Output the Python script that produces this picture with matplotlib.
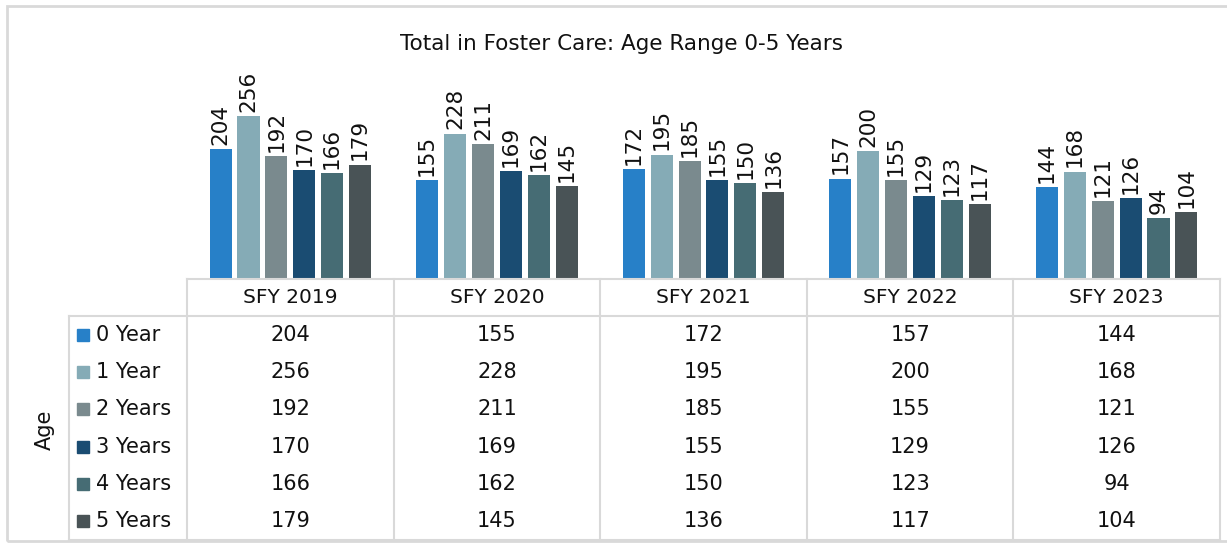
import numpy as np
import matplotlib.pyplot as plt

years = ["SFY 2019", "SFY 2020", "SFY 2021", "SFY 2022", "SFY 2023"]
ages = ["0 Year", "1 Year", "2 Years", "3 Years", "4 Years", "5 Years"]
age0 = [204, 155, 172, 157, 144]
age1 = [256, 228, 195, 200, 168]
age2 = [192, 211, 185, 155, 121]
age3 = [170, 169, 155, 129, 126]
age4 = [166, 162, 150, 123, 94]
age5 = [179, 145, 136, 117, 104]
series = [age0, age1, age2, age3, age4, age5]
colors = ["#2780C8", "#85ABB6", "#7A8A8E", "#1A4C72", "#466C74", "#495356"]

W, H = 1227, 545
fig = plt.figure(figsize=(W / 100, H / 100), dpi=100)
plt.rcParams["font.family"] = ["DejaVu Sans"]
txt = "#111111"
grid = "#d9d9d9"


def fx(px):
    return px / W


def fy(py):
    return 1 - py / H


# outer frame
fig.add_artist(plt.Rectangle((fx(7), fy(541)), fx(1240 - 7), fy(6) - fy(541),
                             transform=fig.transFigure, fill=False,
                             edgecolor=grid, lw=2))

fig.text(fx(622), fy(44), "Total in Foster Care: Age Range 0-5 Years",
         ha="center", va="center", fontsize=15.5, color=txt)

# bars
left, right, base, top = 187, 1220, 278, 88
ax = fig.add_axes([fx(left), fy(base), fx(right - left), fy(top) - fy(base)])
x = np.arange(len(years))
bw = 0.107
step = 0.135
for i, (vals, c) in enumerate(zip(series, colors)):
    pos = x + (i - 2.5) * step
    ax.bar(pos, vals, width=bw, color=c)
    for p, v in zip(pos, vals):
        ax.annotate(str(v), (p, v), xytext=(0, 3), textcoords="offset points",
                    rotation=90, ha="center", va="bottom", fontsize=15.5,
                    color=txt)
ax.set_xlim(-0.5, len(years) - 0.5)
ax.set_ylim(0, 300)
ax.axis("off")

# data table
tab_left, tab_top, head_bot, tab_bot = 69, 279, 316, 540
tx = fig.add_axes([0, 0, 1, 1])
tx.set_xlim(0, W)
tx.set_ylim(H, 0)
tx.axis("off")
colw = (right - left) / len(years)
rowh = (tab_bot - head_bot) / len(ages)

# horizontal lines
tx.plot([left, right], [tab_top, tab_top], color=grid, lw=1.5)
tx.plot([tab_left, right], [head_bot, head_bot], color=grid, lw=1.5)
tx.plot([tab_left, right], [tab_bot, tab_bot], color=grid, lw=1.5)
# vertical lines
tx.plot([tab_left, tab_left], [head_bot, tab_bot], color=grid, lw=1.5)
for j in range(len(years) + 1):
    xx = left + j * colw
    tx.plot([xx, xx], [tab_top, tab_bot], color=grid, lw=1.5)

for j, yr in enumerate(years):
    tx.text(left + (j + 0.5) * colw, (tab_top + head_bot) / 2, yr,
            ha="center", va="center", fontsize=14.5, color=txt)

for i, (name, vals, c) in enumerate(zip(ages, series, colors)):
    yc = head_bot + (i + 0.5) * rowh
    tx.add_patch(plt.Rectangle((77, yc - 6), 12, 12, color=c))
    tx.text(96, yc, name, ha="left", va="center", fontsize=15, color=txt)
    for j, v in enumerate(vals):
        tx.text(left + (j + 0.5) * colw, yc, str(v), ha="center",
                va="center", fontsize=15, color=txt)

fig.text(fx(45), fy(430), "Age", rotation=90, ha="center", va="center",
         fontsize=15, color=txt)

fig.savefig("out.png", dpi=100)
